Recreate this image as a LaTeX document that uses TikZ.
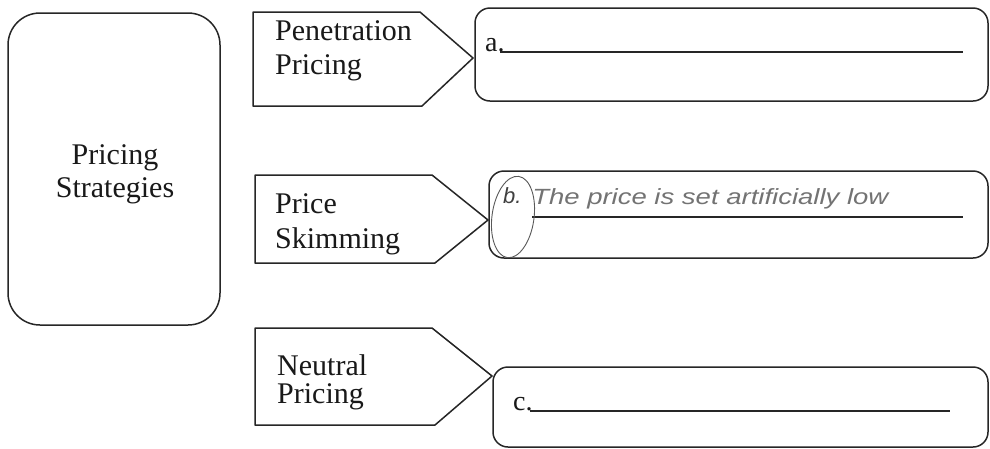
\documentclass[tikz,border=0pt]{standalone}
\usepackage{fontspec}
\setmainfont{Liberation Serif}
\newfontfamily\handfont{Liberation Sans}
\begin{document}
\begin{tikzpicture}[x=1pt,y=-1pt,
  outline/.style={draw=black!85,line width=1.5pt,line join=round},
  roundbox/.style={outline,rounded corners=15pt},
  label/.style={anchor=base west,inner sep=0pt,font=\fontsize{30}{34}\selectfont,text=black!90},
  letter/.style={anchor=base west,inner sep=0pt,font=\fontsize{28}{32}\selectfont,text=black!90},
  blank/.style={draw=black!85,line width=1.2pt},
  hand/.style={anchor=base west,inner sep=0pt,font=\handfont\itshape\fontsize{22}{26}\selectfont,text=black!55}]
\useasboundingbox (0,0) rectangle (990,448);
\fill[white] (0,0) rectangle (990,448);

% main category box
\draw[outline,rounded corners=32pt] (8,13) rectangle (220,325);
\node[font=\fontsize{30}{33}\selectfont,align=center,inner sep=0pt,text=black!90] (title) at (115,174) {Pricing\\Strategies};

% strategy tags
\draw[outline] (253,12) -- (420,12) -- (473,58) coordinate (tipA) -- (422,106) -- (253,106) -- cycle;
\node[label] (penA) at (275,40) {Penetration};
\node[label] (penB) at (275,74) {Pricing};

\draw[outline] (255,175) -- (432,175) -- (488,220) coordinate (tipB) -- (435,263) -- (255,263) -- cycle;
\node[label] (skimA) at (275,213) {Price};
\node[label] (skimB) at (275,248) {Skimming};

\draw[outline] (255,328) -- (432,328) -- (492,376) coordinate (tipC) -- (435,425) -- (255,425) -- cycle;
\node[label] (neuA) at (277,375) {Neutral};
\node[label] (neuB) at (277,403) {Pricing};

% answer boxes
\draw[roundbox] (475,8) rectangle (988,101);
\node[letter] (la) at (485,51) {a.};
\draw[blank] (500,52) -- (963,52);

\draw[roundbox] (489,171) rectangle (988,258);
\draw[blank] (532,217) -- (963,217);
\node[hand,text=black!75] (lb) at (503,203) {b.};
\node[hand,xscale=1.25] (ansb) at (532,204) {The price is set artificially low};
\draw[black!65,line width=0.9pt,rotate around={-8:(513,217)}] (513,217) ellipse [x radius=21pt,y radius=41pt];

\draw[roundbox] (493,367) rectangle (988,447);
\node[letter] (lc) at (513,410) {c.};
\draw[blank] (530,411) -- (950,411);
\end{tikzpicture}
\end{document}
